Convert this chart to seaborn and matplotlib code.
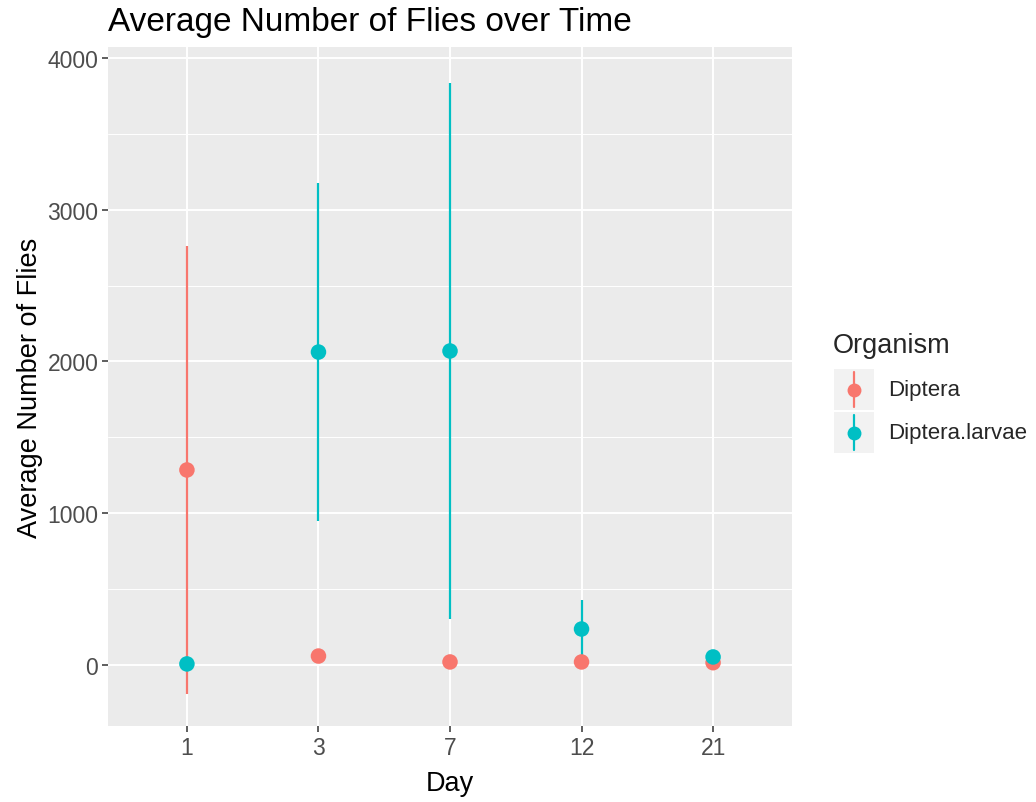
import numpy as np
import pandas as pd
import matplotlib
matplotlib.use("Agg")
import matplotlib.pyplot as plt
from matplotlib.patches import Rectangle
from matplotlib.lines import Line2D
import seaborn as sns

# Mean fly counts and their error half-widths per sampling day
days = ["1", "3", "7", "12", "21"]
diptera_mean = [1285, 59, 20, 20, 15]
diptera_err = [1477, 8, 5, 5, 4]
larvae_mean = [7, 2062, 2069, 237, 53]
larvae_err = [5, 1114, 1766, 191, 12]
organisms = ["Diptera", "Diptera.larvae"]
palette = {"Diptera": "#F8766D", "Diptera.larvae": "#00BFC4"}

df = pd.DataFrame({
    "Day": days * 2,
    "Organism": [organisms[0]] * len(days) + [organisms[1]] * len(days),
    "mean": diptera_mean + larvae_mean,
    "err": diptera_err + larvae_err,
})

sns.set_theme(style="darkgrid")
plt.rcParams["font.family"] = ["Liberation Sans", "DejaVu Sans"]

fig = plt.figure(figsize=(10.36, 8.03), dpi=100)
ax = fig.add_axes([108 / 1036, 1 - 727 / 803, (792 - 108) / 1036, (727 - 48) / 803])
ax.set_facecolor("#EBEBEB")

# error bars first, points on top
for org in organisms:
    sub = df[df["Organism"] == org]
    ax.errorbar(sub["Day"], sub["mean"], yerr=sub["err"], fmt="none",
                ecolor=palette[org], elinewidth=1.6, capsize=0, zorder=2)
sns.scatterplot(data=df, x="Day", y="mean", hue="Organism", palette=palette,
                s=125, edgecolor="none", linewidth=0, legend=False, zorder=3, ax=ax)

ax.set_xlim(-0.6, len(days) - 0.4)
ax.set_ylim(-402, 4072)
ax.set_yticks([0, 1000, 2000, 3000, 4000])
ax.set_yticks([500, 1500, 2500, 3500], minor=True)
ax.grid(which="major", color="white", linewidth=1.4)
ax.grid(which="minor", axis="y", color="white", linewidth=0.7)
ax.set_axisbelow(True)
for s in ax.spines.values():
    s.set_visible(False)
ax.tick_params(axis="both", which="major", length=4, width=1.1, color="#333333",
               labelcolor="#4D4D4D", labelsize=16.5, pad=3, left=True, bottom=True)
ax.tick_params(axis="y", which="minor", length=0)

ax.set_xlabel("Day", fontsize=19.5, color="black", labelpad=8)
ax.set_ylabel("Average Number of Flies", fontsize=19.5, color="black", labelpad=3)
fig.text(108 / 1036, 1 - 22 / 803, "Average Number of Flies over Time",
         fontsize=24, color="black", ha="left", va="center")

# legend drawn in figure coordinates
def fx(px):
    return px / 1036

def fy(py):
    return 1 - py / 803

fig.text(fx(833), fy(346), "Organism", fontsize=19.5, ha="left", va="center")
keys = [(370, 411), (413, 454)]
for org, (top, bot) in zip(organisms, keys):
    fig.add_artist(Rectangle((fx(834), fy(bot)), fx(874) - fx(834), fy(top) - fy(bot),
                             transform=fig.transFigure, facecolor="#F2F2F2",
                             edgecolor="none"))
    cx = fx(854)
    fig.add_artist(Line2D([cx, cx], [fy(top + 3), fy(bot - 3)], transform=fig.transFigure,
                          color=palette[org], linewidth=1.6))
    fig.add_artist(Line2D([cx], [fy((top + bot) / 2)], transform=fig.transFigure,
                          marker="o", markersize=10, color=palette[org],
                          markeredgewidth=0, linestyle="none"))
    fig.text(fx(888), fy((top + bot) / 2), org, fontsize=16, ha="left", va="center")

fig.savefig("out.png", dpi=100)
